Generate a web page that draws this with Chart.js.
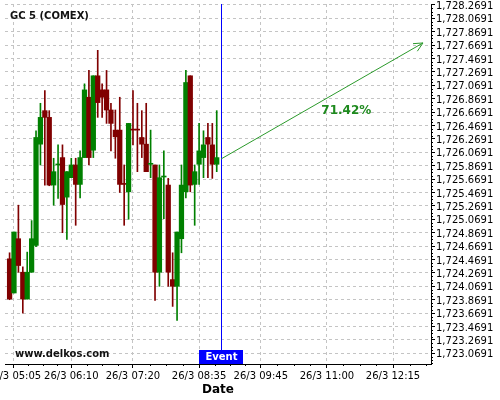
<!DOCTYPE html>
<html>
<head>
<meta charset="utf-8">
<script src="https://cdn.jsdelivr.net/npm/chart.js@4/dist/chart.umd.min.js"></script>
<style>
  html, body { margin: 0; padding: 0; background: #fff; }
  #wrap { width: 500px; height: 400px; }
</style>
</head>
<body>
<div id="wrap"><canvas id="c" width="500" height="400"></canvas></div>
<script>
// ---- data ----
const chartTitle = 'GC 5 (COMEX)';
const watermark = 'www.delkos.com';
const xAxisTitle = 'Date';
const dateLabel = '26/3';

const candleTimes = ['05:00','05:05','05:10','05:15','05:20','05:25','05:30','05:35','05:40','05:45','05:50','05:55',
  '06:00','06:05','06:10','06:15','06:20','06:25','06:30','06:35','06:40','06:45','06:50','06:55',
  '07:00','07:05','07:10','07:15','07:20','07:25','07:30','07:35','07:40','07:45','07:50','07:55',
  '08:00','08:05','08:10','08:15','08:20','08:25','08:30','08:35','08:40','08:45','08:50','08:55'];
const openVals  = [1724.48,1723.97,1724.78,1724.28,1723.88,1724.28,1724.68,1726.19,1726.69,1726.59,1725.58,1725.88,
  1725.99,1725.40,1725.69,1725.88,1725.59,1725.99,1726.89,1726.10,1727.21,1727.00,1727.00,1726.70,
  1726.40,1726.40,1725.60,1725.48,1726.41,1726.41,1726.29,1726.19,1725.89,1725.88,1724.28,1725.70,
  1725.58,1724.17,1724.07,1724.78,1725.48,1727.21,1725.59,1725.89,1725.99,1726.29,1726.18,1725.89];
const highVals  = [1724.57,1724.88,1725.28,1724.36,1724.58,1725.05,1726.39,1726.80,1726.99,1726.69,1725.98,1726.18,
  1726.18,1725.78,1725.98,1725.98,1726.09,1727.09,1727.29,1727.21,1727.59,1727.09,1727.29,1726.80,
  1726.70,1726.89,1725.88,1726.50,1726.99,1726.80,1726.69,1726.80,1726.40,1725.88,1725.88,1726.09,
  1725.68,1724.57,1724.88,1725.88,1727.29,1727.21,1725.88,1726.50,1726.39,1726.50,1726.50,1726.69];
const lowVals   = [1723.87,1723.97,1724.28,1723.67,1723.88,1724.28,1724.66,1725.88,1725.58,1725.57,1725.28,1725.38,
  1724.87,1724.77,1725.69,1724.98,1725.39,1725.99,1725.88,1725.99,1726.59,1726.59,1726.50,1726.09,
  1725.98,1725.47,1724.98,1725.07,1726.18,1725.78,1725.99,1725.78,1725.69,1723.86,1724.07,1725.08,
  1724.07,1723.77,1723.56,1724.57,1725.39,1725.48,1724.98,1725.59,1725.69,1725.69,1725.68,1725.78];
const closeVals = [1723.88,1724.88,1724.38,1723.88,1724.28,1724.78,1726.29,1726.59,1726.59,1725.58,1725.78,1725.89,
  1725.29,1725.78,1725.88,1725.59,1725.99,1727.00,1725.99,1727.21,1726.81,1726.89,1726.70,1726.50,
  1726.30,1725.59,1725.59,1726.50,1726.40,1726.40,1726.19,1725.78,1725.90,1724.28,1725.69,1725.71,
  1724.28,1724.07,1724.88,1725.58,1727.11,1725.58,1725.78,1726.09,1726.18,1726.19,1725.89,1725.99];

const xTickTimes = ['05:05','06:10','07:20','08:35','09:45','11:00','12:15'];
const xRangeMinutes = [294.8, 778.1];
const yTickValues = [1723.0691,1723.2691,1723.4691,1723.6691,1723.8691,1724.0691,1724.2691,1724.4691,1724.6691,
  1724.8691,1725.0691,1725.2691,1725.4691,1725.6691,1725.8691,1726.0691,1726.2691,1726.4691,1726.6691,1726.8691,
  1727.0691,1727.2691,1727.4691,1727.6691,1727.8691,1728.0691,1728.2691];
const yRange = [1722.911, 1728.281];

const eventTime = '09:00';
const eventLabel = 'Event';
const projStart = ['09:00', 1725.97];
const projEnd = ['12:49', 1727.70];
const projText = '71.42%';
const projTextAt = ['11:22', 1726.68];

// ---- helpers ----
const toMin = t => { const p = t.split(':').map(Number); return p[0] * 60 + p[1]; };
const UP = '#008000', DOWN = '#800000';
const colors = openVals.map((o, i) => closeVals[i] >= o ? UP : DOWN);
const bodies = candleTimes.map((t, i) => ({ x: toMin(t), y: [openVals[i], closeVals[i]] }));
const wicks = candleTimes.map((t, i) => ({ x: toMin(t), y: [lowVals[i], highVals[i]] }));

Chart.defaults.font.family = '"DejaVu Sans", sans-serif';
Chart.defaults.color = '#000';

const overlay = {
  id: 'overlay',
  afterDraw(chart) {
    const { ctx, chartArea: a, scales: { x, y } } = chart;
    ctx.save();
    // minor ticks
    ctx.strokeStyle = '#000';
    ctx.lineWidth = 1;
    ctx.beginPath();
    const xt = xTickTimes.map(toMin);
    const step = (xt[1] - xt[0]);
    for (let i = -1; i < xt.length; i++) {
      const v0 = i < 0 ? xt[0] - step : xt[i];
      const v1 = i < 0 ? xt[0] : (i + 1 < xt.length ? xt[i + 1] : xt[i] + 75);
      for (let k = 1; k < 4; k++) {
        const px = Math.round(x.getPixelForValue(v0 + (v1 - v0) * k / 4)) + 0.5;
        if (px < a.left || px > a.right) continue;
        ctx.moveTo(px, a.bottom); ctx.lineTo(px, a.bottom + 2);
      }
    }
    for (let i = 0; i < yTickValues.length; i++) {
      for (let k = 1; k < 4; k++) {
        const v = yTickValues[i] + 0.05 * k;
        const py = Math.round(y.getPixelForValue(v)) + 0.5;
        if (py < a.top || py > a.bottom) continue;
        ctx.moveTo(a.right, py); ctx.lineTo(a.right + 2, py);
      }
    }
    for (let k = 1; k < 4; k++) {
      const py = Math.round(y.getPixelForValue(yTickValues[0] - 0.05 * k)) + 0.5;
      if (py <= a.bottom) { ctx.moveTo(a.right, py); ctx.lineTo(a.right + 2, py); }
    }
    ctx.stroke();

    // event line and box
    const ex = Math.round(x.getPixelForValue(toMin(eventTime))) + 0.5;
    ctx.strokeStyle = '#0000ff';
    ctx.beginPath();
    ctx.moveTo(ex, a.top); ctx.lineTo(ex, a.bottom - 14);
    ctx.stroke();
    ctx.fillStyle = '#0000ff';
    ctx.fillRect(ex - 22.5, a.bottom - 14, 44, 14);
    ctx.fillStyle = '#fff';
    ctx.font = 'bold 10px "DejaVu Sans"';
    ctx.textAlign = 'center';
    ctx.textBaseline = 'middle';
    ctx.fillText(eventLabel, ex, a.bottom - 6.5);

    // projection arrow
    const x0 = x.getPixelForValue(toMin(projStart[0])), y0 = y.getPixelForValue(projStart[1]);
    const x1 = x.getPixelForValue(toMin(projEnd[0])), y1 = y.getPixelForValue(projEnd[1]);
    ctx.strokeStyle = '#2b9a2b';
    ctx.lineWidth = 1;
    ctx.beginPath();
    ctx.moveTo(x0, y0); ctx.lineTo(x1, y1);
    const ang = Math.atan2(y1 - y0, x1 - x0);
    const hl = 10, ha = 0.45;
    ctx.moveTo(x1 - hl * Math.cos(ang - ha), y1 - hl * Math.sin(ang - ha));
    ctx.lineTo(x1, y1);
    ctx.lineTo(x1 - hl * Math.cos(ang + ha), y1 - hl * Math.sin(ang + ha));
    ctx.stroke();
    ctx.fillStyle = '#1e8a1e';
    ctx.font = 'bold 12px "DejaVu Sans"';
    ctx.fillText(projText, x.getPixelForValue(toMin(projTextAt[0])), y.getPixelForValue(projTextAt[1]));

    // title and watermark
    ctx.fillStyle = '#111';
    ctx.font = 'bold 10px "DejaVu Sans"';
    ctx.textAlign = 'left';
    ctx.fillText(chartTitle, 10, 16);
    ctx.fillText(watermark, 15, 354);
    ctx.restore();
  }
};

new Chart(document.getElementById('c'), {
  type: 'bar',
  data: {
    datasets: [
      { data: wicks, backgroundColor: colors, barThickness: 1, grouped: false, order: 2, borderWidth: 0 },
      { data: bodies, backgroundColor: colors, barThickness: 4.6, grouped: false, order: 1, borderWidth: 0, minBarLength: 1 }
    ]
  },
  options: {
    responsive: false,
    animation: false,
    events: [],
    layout: { padding: { left: 5, top: 4, right: 0, bottom: 0 } },
    plugins: { legend: { display: false }, tooltip: { enabled: false }, title: { display: false } },
    scales: {
      x: {
        type: 'linear',
        offset: false,
        min: xRangeMinutes[0], max: xRangeMinutes[1],
        stacked: false,
        afterBuildTicks: s => { s.ticks = xTickTimes.map(t => ({ value: toMin(t) })); },
        afterFit: s => { s.height = 36; s.paddingLeft = 0; s.paddingRight = 0; },
        ticks: {
          autoSkip: false, maxRotation: 0, padding: 2,
          font: { size: 10 }, color: '#000',
          callback: (v, i) => dateLabel + ' ' + xTickTimes[i]
        },
        grid: { color: '#c4c4c4', lineWidth: 1, tickLength: 4, tickColor: '#000', drawOnChartArea: true, offset: false },
        border: { display: true, color: '#000', width: 1, dash: [3, 3] },
        title: { display: true, text: xAxisTitle, font: { size: 12, weight: 'bold' }, color: '#000', padding: { top: 0, bottom: 3 } }
      },
      y: {
        type: 'linear',
        position: 'right',
        min: yRange[0], max: yRange[1],
        afterBuildTicks: s => { s.ticks = yTickValues.map(v => ({ value: v })); },
        afterFit: s => { s.width = 69; s.paddingTop = 0; s.paddingBottom = 0; },
        ticks: {
          autoSkip: false, padding: 1, labelOffset: 1.5, font: { size: 10 }, color: '#000',
          callback: v => v.toLocaleString('en-US', { minimumFractionDigits: 4, maximumFractionDigits: 4 })
        },
        grid: { color: '#c4c4c4', lineWidth: 1, tickLength: 4, tickColor: '#000' },
        border: { display: true, color: '#000', width: 1, dash: [3, 3] }
      }
    }
  },
  plugins: [overlay]
});
</script>
</body>
</html>
